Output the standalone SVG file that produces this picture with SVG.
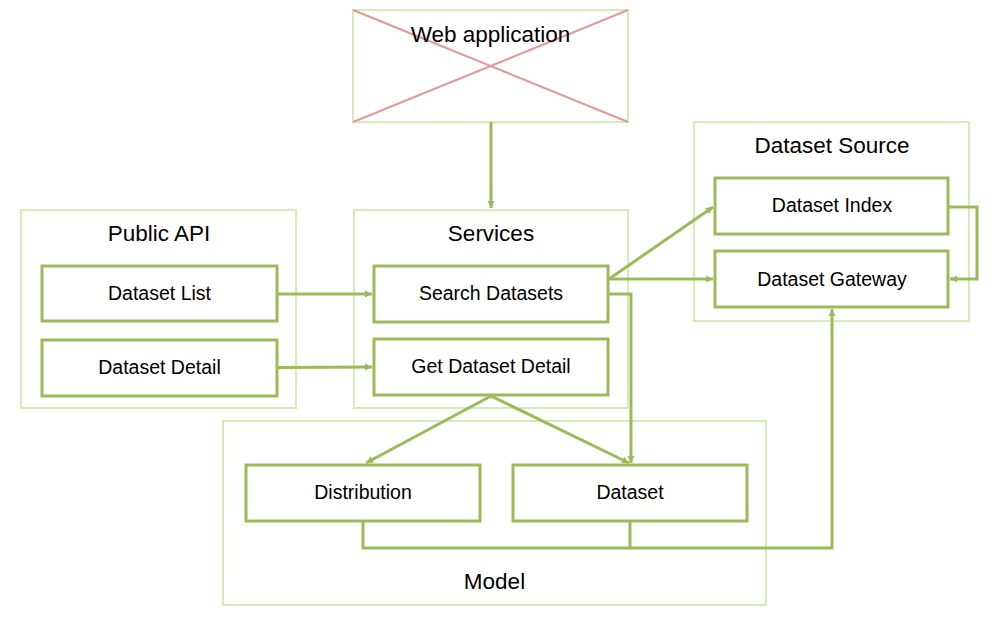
<svg xmlns="http://www.w3.org/2000/svg" width="1003" height="635" viewBox="0 0 1003 635">
<defs>
<marker id="arr" markerUnits="userSpaceOnUse" markerWidth="10" markerHeight="10" refX="8" refY="5" orient="auto">
<path d="M1,1.5 L8,5 L1,8.5 Z" fill="#9bbb59"/>
</marker>
<style>
.cont{fill:#fff;stroke:#d6ecb8;stroke-width:2}
.box{fill:#fff;stroke:#9bbb59;stroke-width:3}
.x{stroke:#df9a9a;stroke-width:2}
.title{font-family:"Liberation Sans",Arial,sans-serif;font-size:22.5px;fill:#000;text-anchor:middle}
.lbl{font-family:"Liberation Sans",Arial,sans-serif;font-size:19.5px;fill:#000;text-anchor:middle}
.c{fill:none;stroke:#9bbb59;stroke-width:3}
</style>
</defs>
<rect width="1003" height="635" fill="#fff"/>
<g id="web-application">
<rect class="cont" x="353" y="10" width="275" height="112"/>
<line class="x" x1="353" y1="10" x2="628" y2="122"/>
<line class="x" x1="628" y1="10" x2="353" y2="122"/>
<text class="title" x="490.5" y="42">Web application</text>
</g>
<g id="public-api">
<rect class="cont" x="21" y="210" width="275" height="198"/>
<text class="title" x="159" y="241">Public API</text>
</g>
<g id="services">
<rect class="cont" x="354" y="210" width="274" height="198"/>
<text class="title" x="491" y="241">Services</text>
</g>
<g id="dataset-source">
<rect class="cont" x="694" y="122" width="275" height="199"/>
<text class="title" x="832" y="153">Dataset Source</text>
</g>
<g id="model">
<rect class="cont" x="223" y="421" width="543" height="184"/>
<text class="title" x="494.5" y="589">Model</text>
</g>
<g id="dataset-list">
<rect class="box" x="42" y="266" width="235" height="55"/>
<text class="lbl" x="159.5" y="300">Dataset List</text>
</g>
<g id="dataset-detail">
<rect class="box" x="42" y="340" width="235" height="56"/>
<text class="lbl" x="159.5" y="374">Dataset Detail</text>
</g>
<g id="search-datasets">
<rect class="box" x="374" y="266" width="234" height="56"/>
<text class="lbl" x="491" y="300">Search Datasets</text>
</g>
<g id="get-dataset-detail">
<rect class="box" x="374" y="339" width="234" height="56"/>
<text class="lbl" x="491" y="373">Get Dataset Detail</text>
</g>
<g id="dataset-index">
<rect class="box" x="715" y="178" width="233" height="56"/>
<text class="lbl" x="832" y="212">Dataset Index</text>
</g>
<g id="dataset-gateway">
<rect class="box" x="715" y="251" width="233" height="56"/>
<text class="lbl" x="832" y="286">Dataset Gateway</text>
</g>
<g id="distribution">
<rect class="box" x="246" y="465" width="234" height="56"/>
<text class="lbl" x="363" y="499">Distribution</text>
</g>
<g id="dataset">
<rect class="box" x="513" y="465" width="234" height="56"/>
<text class="lbl" x="630" y="499">Dataset</text>
</g>
<g id="connectors">
<path class="c" d="M491,122 V208" marker-end="url(#arr)"/>
<path class="c" d="M277,294 H372" marker-end="url(#arr)"/>
<path class="c" d="M277,367.5 L372,367" marker-end="url(#arr)"/>
<path class="c" d="M609,279 L713,207" marker-end="url(#arr)"/>
<path class="c" d="M609,279 H713" marker-end="url(#arr)"/>
<path class="c" d="M608,294 H631 V463" marker-end="url(#arr)"/>
<path class="c" d="M491,396 L366,463" marker-end="url(#arr)"/>
<path class="c" d="M491,396 L629,463" marker-end="url(#arr)"/>
<path class="c" d="M948,207 H977 V279 H950" marker-end="url(#arr)"/>
<path class="c" d="M363,521 V548 H832 V309" marker-end="url(#arr)"/>
<path class="c" d="M630,521 V548"/>
</g>
</svg>
